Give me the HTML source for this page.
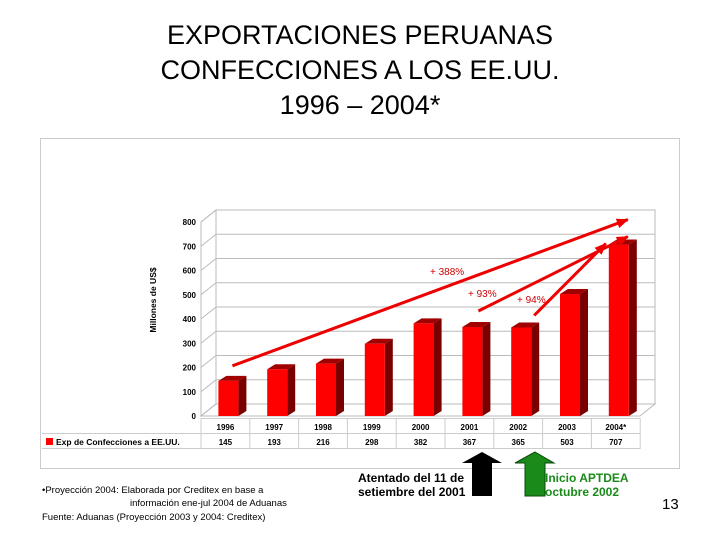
<!DOCTYPE html>
<html><head><meta charset="utf-8"><style>
body{margin:0;background:#fff;font-family:"Liberation Sans",sans-serif}
#wrap{position:relative;width:720px;height:540px;overflow:hidden}
.t{position:absolute;white-space:nowrap}
</style></head><body><div id="wrap">
<div class="t" style="left:0;width:720px;top:18px;text-align:center;font-size:27px;line-height:35px">EXPORTACIONES PERUANAS<br>CONFECCIONES A LOS EE.UU.<br>1996 – 2004*</div>
<svg id="chart" width="720" height="540" style="position:absolute;left:0;top:0" font-family="Liberation Sans, sans-serif"></svg>
<div class="t" style="left:358px;top:471px;font-size:12px;font-weight:bold;line-height:14px">Atentado del 11 de<br>setiembre del 2001</div>
<div class="t" style="left:545px;top:471px;font-size:12px;font-weight:bold;line-height:14px;color:#1a8a1a">Inicio APTDEA<br>octubre 2002</div>
<div class="t" style="left:662px;top:496px;font-size:15px">13</div>
<div class="t" style="left:42px;top:484px;font-size:9.5px;line-height:13px">•Proyección 2004: Elaborada por Creditex en base a<br><span style="padding-left:88px">información ene-jul 2004 de Aduanas</span></div>
<div class="t" style="left:42px;top:512px;font-size:9.5px">Fuente: Aduanas (Proyección 2003 y 2004: Creditex)</div>
</div>
<script>
const categories=["1996","1997","1998","1999","2000","2001","2002","2003","2004*"];
const values=[145,193,216,298,382,367,365,503,707];
const yTicks=[0,100,200,300,400,500,600,700,800];
const NS="http://www.w3.org/2000/svg";
const svg=document.getElementById('chart');
function el(t,a,p){const e=document.createElementNS(NS,t);for(const k in a)e.setAttribute(k,a[k]);(p||svg).appendChild(e);return e;}
const y0=416,pxPer=0.2425,axX=201,colW=48.8,dx=15,dy=12;
const y=v=>y0-v*pxPer;
const xc=i=>axX+colW*(i+0.5);
let b=el('rect',{x:40.5,y:138.5,width:639,height:330,fill:'#fff',stroke:'#ccc'});


el('polygon',{points:`${axX+dx},${y(800)-dy} ${axX+dx+439},${y(800)-dy} ${axX+dx+439},${y0-dy} ${axX+dx},${y0-dy}`,fill:'#fff',stroke:'#bbb'});
el('polygon',{points:`${axX},${y(800)} ${axX+dx},${y(800)-dy} ${axX+dx},${y0-dy} ${axX},${y0}`,fill:'#fff',stroke:'#bbb'});
el('polygon',{points:`${axX},${y0} ${axX+dx},${y0-dy} ${axX+dx+439},${y0-dy} ${axX+439},${y0}`,fill:'#fff',stroke:'#bbb'});
yTicks.forEach(t=>{
 const g=el('line',{x1:axX+dx,x2:axX+dx+439,y1:y(t)-dy,y2:y(t)-dy,stroke:'#bbb'});
 
 
 el('line',{x1:axX,x2:axX+dx,y1:y(t),y2:y(t)-dy,stroke:'#bbb'});
 const l=el('text',{x:196,y:y(t)+3,'font-size':8,'font-weight':'bold','text-anchor':'end'});l.textContent=t;
 
 
});
const yt=el('text',{x:156,y:300,'font-size':8.5,'font-weight':'bold','text-anchor':'middle',transform:'rotate(-90 156 300)'});yt.textContent='Millones de US$';


const bw=20,bd=8,bu=5;
values.forEach((v,i)=>{
 const x=xc(i)-7,top=y(v);
 const g=el('g',{});
 
 
 el('polygon',{points:`${x+bw},${top} ${x+bw+bd},${top-bu} ${x+bw+bd},${y0-bu} ${x+bw},${y0}`,fill:'#7a0000'},g);
 el('polygon',{points:`${x},${top} ${x+bd},${top-bu} ${x+bw+bd},${top-bu} ${x+bw},${top}`,fill:'#a00000'},g);
 el('rect',{x:x,y:top,width:bw,height:y0-top,fill:'#ff0000'},g);
});
el('line',{x1:42,x2:640,y1:433.5,y2:433.5,stroke:'#ccc'});
el('line',{x1:42,x2:640,y1:448.5,y2:448.5,stroke:'#ccc'});
el('line',{x1:201,x2:640,y1:418.5,y2:418.5,stroke:'#ccc'});
for(let i=0;i<=categories.length;i++)el('line',{x1:axX+colW*i,x2:axX+colW*i,y1:418,y2:449,stroke:'#ccc'});
categories.forEach((c,i)=>{
 const t=el('text',{x:xc(i),y:430,'font-size':8,'font-weight':'bold','text-anchor':'middle'});t.textContent=c;
 
 
 const v=el('text',{x:xc(i),y:445,'font-size':8,'font-weight':'bold','text-anchor':'middle'});v.textContent=values[i];
 
 
});
const lg=el('g',{});


el('rect',{x:46,y:438,width:7,height:7,fill:'#ff0000'},lg);
const lt=el('text',{x:56,y:445,'font-size':8.5,'font-weight':'bold'},lg);lt.textContent='Exp de Confecciones a EE.UU.';
el('defs',{}).innerHTML='<marker id="ah" markerUnits="userSpaceOnUse" markerWidth="12" markerHeight="10" refX="11" refY="5" orient="auto"><path d="M0,0 L12,5 L0,10z" fill="#e00"/></marker>';
function arrow(i1,i2,off,name){
 const x1=xc(i1)+off[0],y1=y(values[i1])+off[1],x2=xc(i2)+off[2],y2=y(values[i2])+off[3];
 const a=el('line',{x1,y1,x2,y2,stroke:'#e00','stroke-width':3,'marker-end':'url(#ah)'});
 
 
}
arrow(0,8,[7,-15,12,-25],'arrow-388');
arrow(5,8,[9,-16,12,-8],'arrow-93');
arrow(6,8,[16,-12,-10,-1],'arrow-94');
[['+ 388%',430,275],['+ 93%',468,297],['+ 94%',517,303]].forEach(p=>{
 const t=el('text',{x:p[1],y:p[2],'font-size':10,fill:'#c00'});t.textContent=p[0];
 
 
});
const ba=el('polygon',{points:'482,452 502,463 492,463 492,496 472,496 472,463 462,463',fill:'#000'});


const ga=el('polygon',{points:'535,452 554,463 545,463 545,496 525,496 525,463 515,463',fill:'#1a8a1a',stroke:'#0a4a0a'});


</script></body></html>
